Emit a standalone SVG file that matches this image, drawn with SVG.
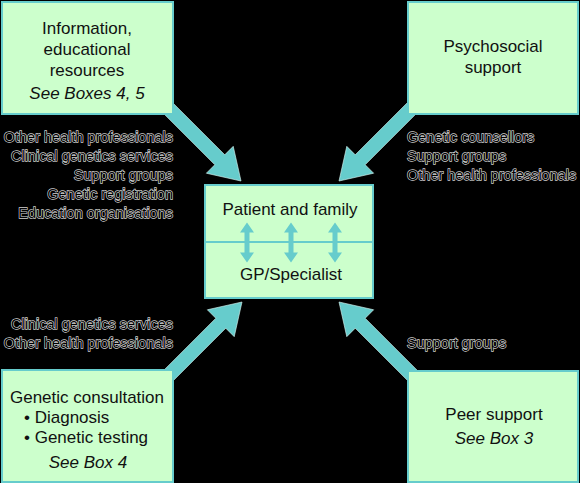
<svg xmlns="http://www.w3.org/2000/svg" width="580" height="483" viewBox="0 0 580 483">
<style>
.box{fill:#ccffcc;stroke:#66cccc;stroke-width:2}
.arrow{fill:#66cccc;stroke:#d8f4f0;stroke-width:0.6}
.t{font-family:"Liberation Sans",Arial,sans-serif;font-size:17px;fill:#111;text-anchor:middle}
.i{font-style:italic}
.s{text-anchor:start}
.lab{font-family:"Liberation Sans",Arial,sans-serif;font-size:14.5px;fill:#000;stroke:#d0d0d0;stroke-width:1.3;paint-order:stroke}
.r{text-anchor:end}
</style>
<defs>
<polygon id="bigArrow" points="0,0 -30,-19 -30,-7 -135,-7 -135,7 -30,7 -30,19"/>
<polygon id="dbl" points="0,-20 7,-10 2.5,-10 2.5,10 7,10 0,20 -7,10 -2.5,10 -2.5,-10 -7,-10"/>
</defs>
<rect width="580" height="483" fill="#000"/>
<g id="connectors">
<use href="#bigArrow" class="arrow" transform="translate(241,181) rotate(45)"/>
<use href="#bigArrow" class="arrow" transform="translate(339,181) rotate(135)"/>
<use href="#bigArrow" class="arrow" transform="translate(242,302) rotate(-45)"/>
<use href="#bigArrow" class="arrow" transform="translate(339,302) rotate(-135)"/>
</g>
<g id="labels" transform="rotate(0.01 290 241)">
<text class="lab r" x="173" y="142">Other health professionals</text>
<text class="lab r" x="173" y="161">Clinical genetics services</text>
<text class="lab r" x="173" y="180">Support groups</text>
<text class="lab r" x="173" y="199">Genetic registration</text>
<text class="lab r" x="173" y="218">Education organisations</text>
<text class="lab" x="407" y="142">Genetic counsellors</text>
<text class="lab" x="407" y="161">Support groups</text>
<text class="lab" x="407" y="180">Other health professionals</text>
<text class="lab r" x="173" y="329">Clinical genetics services</text>
<text class="lab r" x="173" y="348">Other health professionals</text>
<text class="lab" x="407" y="348">Support groups</text>
</g>
<g id="info">
<rect class="box" x="2" y="2" width="171" height="112"/>
<text class="t" x="87" y="34">Information,</text>
<text class="t" x="87" y="55">educational</text>
<text class="t" x="87" y="76">resources</text>
<text class="t i" x="87" y="99">See Boxes 4, 5</text>
</g>
<g id="psychosocial">
<rect class="box" x="408" y="2" width="170" height="112"/>
<text class="t" x="493" y="52">Psychosocial</text>
<text class="t" x="493" y="73">support</text>
</g>
<g id="center">
<rect class="box" x="205" y="185" width="168" height="113"/>
<line x1="205" y1="242" x2="373" y2="242" stroke="#66cccc" stroke-width="2"/>
<text class="t" x="290" y="215">Patient and family</text>
<text class="t" x="291" y="280">GP/Specialist</text>
<use href="#dbl" fill="#66cccc" x="247" y="242.5"/>
<use href="#dbl" fill="#66cccc" x="291" y="242.5"/>
<use href="#dbl" fill="#66cccc" x="335" y="242.5"/>
</g>
<g id="consultation">
<rect class="box" x="2" y="370" width="171" height="112"/>
<text class="t" x="87" y="403">Genetic consultation</text>
<text class="t s" x="24" y="423">• Diagnosis</text>
<text class="t s" x="24" y="443">• Genetic testing</text>
<text class="t i" x="88" y="468">See Box 4</text>
</g>
<g id="peer">
<rect class="box" x="408" y="371" width="170" height="111"/>
<text class="t" x="494" y="420">Peer support</text>
<text class="t i" x="494" y="444">See Box 3</text>
</g>
</svg>
